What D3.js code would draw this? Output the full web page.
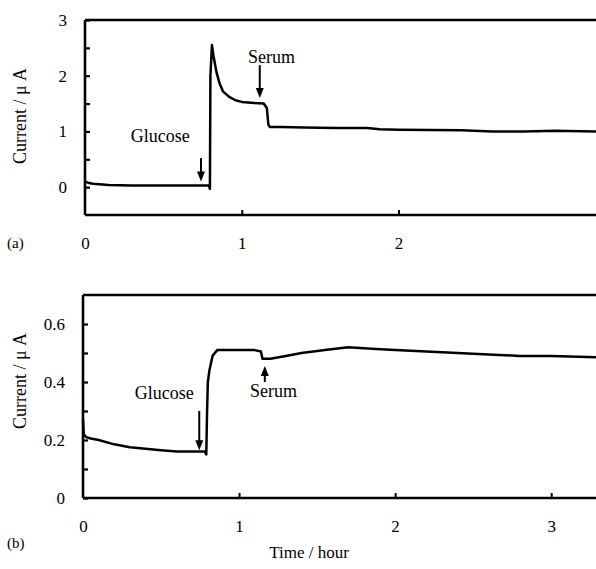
<!DOCTYPE html>
<html>
<head>
<meta charset="UTF-8">
<script src="https://d3js.org/d3.v7.min.js"></script>
<style>
  body { margin: 0; background: #fff; }
  svg text { font-family: "Liberation Serif", "DejaVu Serif", serif; fill: #000; }
  .trace { fill: none; stroke: #000; stroke-width: 2.5; stroke-linejoin: round; }
  .frame { stroke: #000; stroke-width: 2.6; }
</style>
</head>
<body>
<div id="chart"></div>
<script>
// panel (a) trace
const timeA = [0.00, 0.02, 0.05, 0.15, 0.30, 0.50, 0.70, 0.79, 0.797, 0.80, 0.81, 0.82, 0.84, 0.86, 0.88, 0.92, 0.96, 1.00, 1.08, 1.14, 1.16, 1.17, 1.18, 1.25, 1.40, 1.60, 1.80, 1.88, 2.00, 2.40, 2.60, 2.80, 3.00, 3.26];
const currentA = [0.10, 0.08, 0.06, 0.04, 0.03, 0.03, 0.03, 0.03, -0.03, 2.00, 2.55, 2.35, 2.05, 1.85, 1.72, 1.62, 1.56, 1.53, 1.51, 1.50, 1.42, 1.12, 1.08, 1.08, 1.07, 1.06, 1.06, 1.04, 1.03, 1.02, 1.00, 1.00, 1.01, 1.00];

// panel (b) trace
const timeB = [0.00, 0.005, 0.02, 0.05, 0.10, 0.20, 0.30, 0.40, 0.50, 0.60, 0.70, 0.78, 0.79, 0.795, 0.80, 0.81, 0.83, 0.86, 0.90, 1.00, 1.10, 1.14, 1.15, 1.20, 1.30, 1.40, 1.55, 1.70, 1.85, 2.00, 2.20, 2.40, 2.60, 2.80, 3.00, 3.30];
const currentB = [0.27, 0.22, 0.21, 0.205, 0.20, 0.185, 0.175, 0.17, 0.165, 0.16, 0.16, 0.16, 0.15, 0.30, 0.40, 0.44, 0.49, 0.51, 0.51, 0.51, 0.51, 0.505, 0.48, 0.48, 0.49, 0.50, 0.51, 0.52, 0.515, 0.51, 0.505, 0.50, 0.495, 0.49, 0.49, 0.485];

const xTicksA = [0, 1, 2];
const xTicksB = [0, 1, 2, 3];
const yTicksA = [0, 1, 2, 3];
const yMinorA = [0.5, 1.5, 2.5];
const yTicksB = [0, 0.2, 0.4, 0.6];
const yMinorB = [0.1, 0.3, 0.5];

// annotations: label, text x/y, arrow x, arrow from -> to (data units)
const notesA = [
  { label: "Glucose", tx: 0.48, ty: 0.81, ax: 0.74, y0: 0.52, y1: 0.10 },
  { label: "Serum", tx: 1.19, ty: 2.23, ax: 1.115, y0: 2.19, y1: 1.60 }
];
const notesB = [
  { label: "Glucose", tx: 0.52, ty: 0.34, ax: 0.745, y0: 0.30, y1: 0.165 },
  { label: "Serum", tx: 1.22, ty: 0.35, ax: 1.165, y0: 0.40, y1: 0.455 }
];

const svg = d3.select("#chart").append("svg")
  .attr("width", 596).attr("height", 569);

function panel(opt) {
  const x = d3.scaleLinear().domain(opt.xDomain).range(opt.xRange);
  const y = d3.scaleLinear().domain(opt.yDomain).range(opt.yRange);
  const g = svg.append("g");
  const left = opt.xRange[0], right = 596;
  const top = opt.yRange[1], bottom = opt.yRange[0];

  // frame: left, top, bottom (no right edge)
  g.append("line").attr("class", "frame").attr("x1", left).attr("x2", left).attr("y1", top).attr("y2", bottom);
  g.append("line").attr("class", "frame").attr("x1", left).attr("x2", right).attr("y1", top).attr("y2", top);
  g.append("line").attr("class", "frame").attr("x1", left).attr("x2", right).attr("y1", bottom).attr("y2", bottom);

  // y axis, inward ticks
  const yAx = g.append("g").attr("transform", `translate(${left},0)`)
    .call(d3.axisLeft(y).tickValues(opt.yTicks).tickSize(-5).tickPadding(18)
      .tickFormat(d => d === 0 ? "0" : d3.format(opt.yFmt)(d)));
  yAx.attr("font-family", null);
  yAx.select(".domain").remove();
  yAx.selectAll("line").attr("stroke-width", 2.2);
  yAx.selectAll("text").attr("font-size", 17);
  const yMin = g.append("g").attr("transform", `translate(${left},0)`)
    .call(d3.axisLeft(y).tickValues(opt.yMinor).tickSize(-5).tickFormat(""));
  yMin.select(".domain").remove();
  yMin.selectAll("line").attr("stroke-width", 2.2);

  // x axis
  const xAx = g.append("g").attr("transform", `translate(0,${bottom})`)
    .call(d3.axisBottom(x).tickValues(opt.xTicks).tickSize(-5).tickPadding(22)
      .tickFormat(d3.format("d")));
  xAx.attr("font-family", null);
  xAx.select(".domain").remove();
  xAx.selectAll("line").attr("stroke-width", 2).filter(d => d === 0).remove();
  xAx.selectAll("text").attr("font-size", 17);

  // trace
  const line = d3.line().x(d => x(d[0])).y(d => y(d[1]));
  g.append("path").attr("class", "trace")
    .datum(opt.time.map((t, i) => [t, opt.current[i]]))
    .attr("d", line);

  // annotations
  opt.notes.forEach(n => {
    g.append("text").attr("x", x(n.tx)).attr("y", y(n.ty))
      .attr("text-anchor", "middle").attr("font-size", 18).text(n.label);
    const dir = y(n.y1) > y(n.y0) ? 1 : -1;
    const tipY = y(n.y1);
    g.append("line").attr("x1", x(n.ax)).attr("x2", x(n.ax))
      .attr("y1", y(n.y0)).attr("y2", tipY - dir * 6)
      .attr("stroke", "#000").attr("stroke-width", 2);
    g.append("path")
      .attr("d", `M${x(n.ax) - 4},${tipY - dir * 10}L${x(n.ax) + 4},${tipY - dir * 10}L${x(n.ax)},${tipY}Z`)
      .attr("fill", "#000");
  });

  // y title
  g.append("text")
    .attr("transform", `translate(${opt.titleX},${opt.titleY}) rotate(-90)`)
    .attr("text-anchor", "middle").attr("dy", "0.35em").attr("font-size", 18)
    .text("Current / \u03bc A");

  // panel tag
  g.append("text").attr("x", 7).attr("y", opt.tagY).attr("dy", "0.35em")
    .attr("font-size", 15).text(opt.tag);

  return { x, y };
}

panel({
  time: timeA, current: currentA, notes: notesA,
  xDomain: [0, 3.26], xRange: [85, 596],
  yDomain: [-0.5, 3], yRange: [215, 20],
  xTicks: xTicksA, yTicks: yTicksA, yMinor: yMinorA, yFmt: "d",
  titleX: 20, titleY: 116, tag: "(a)", tagY: 243
});

panel({
  time: timeB, current: currentB, notes: notesB,
  xDomain: [0, 3.3], xRange: [83, 598],
  yDomain: [0, 0.7], yRange: [498, 295],
  xTicks: xTicksB, yTicks: yTicksB, yMinor: yMinorB, yFmt: ".1f",
  titleX: 20, titleY: 381, tag: "(b)", tagY: 543
});

svg.append("text").attr("x", 309).attr("y", 552).attr("dy", "0.35em")
  .attr("text-anchor", "middle").attr("font-size", 17).text("Time / hour");
</script>
</body>
</html>
